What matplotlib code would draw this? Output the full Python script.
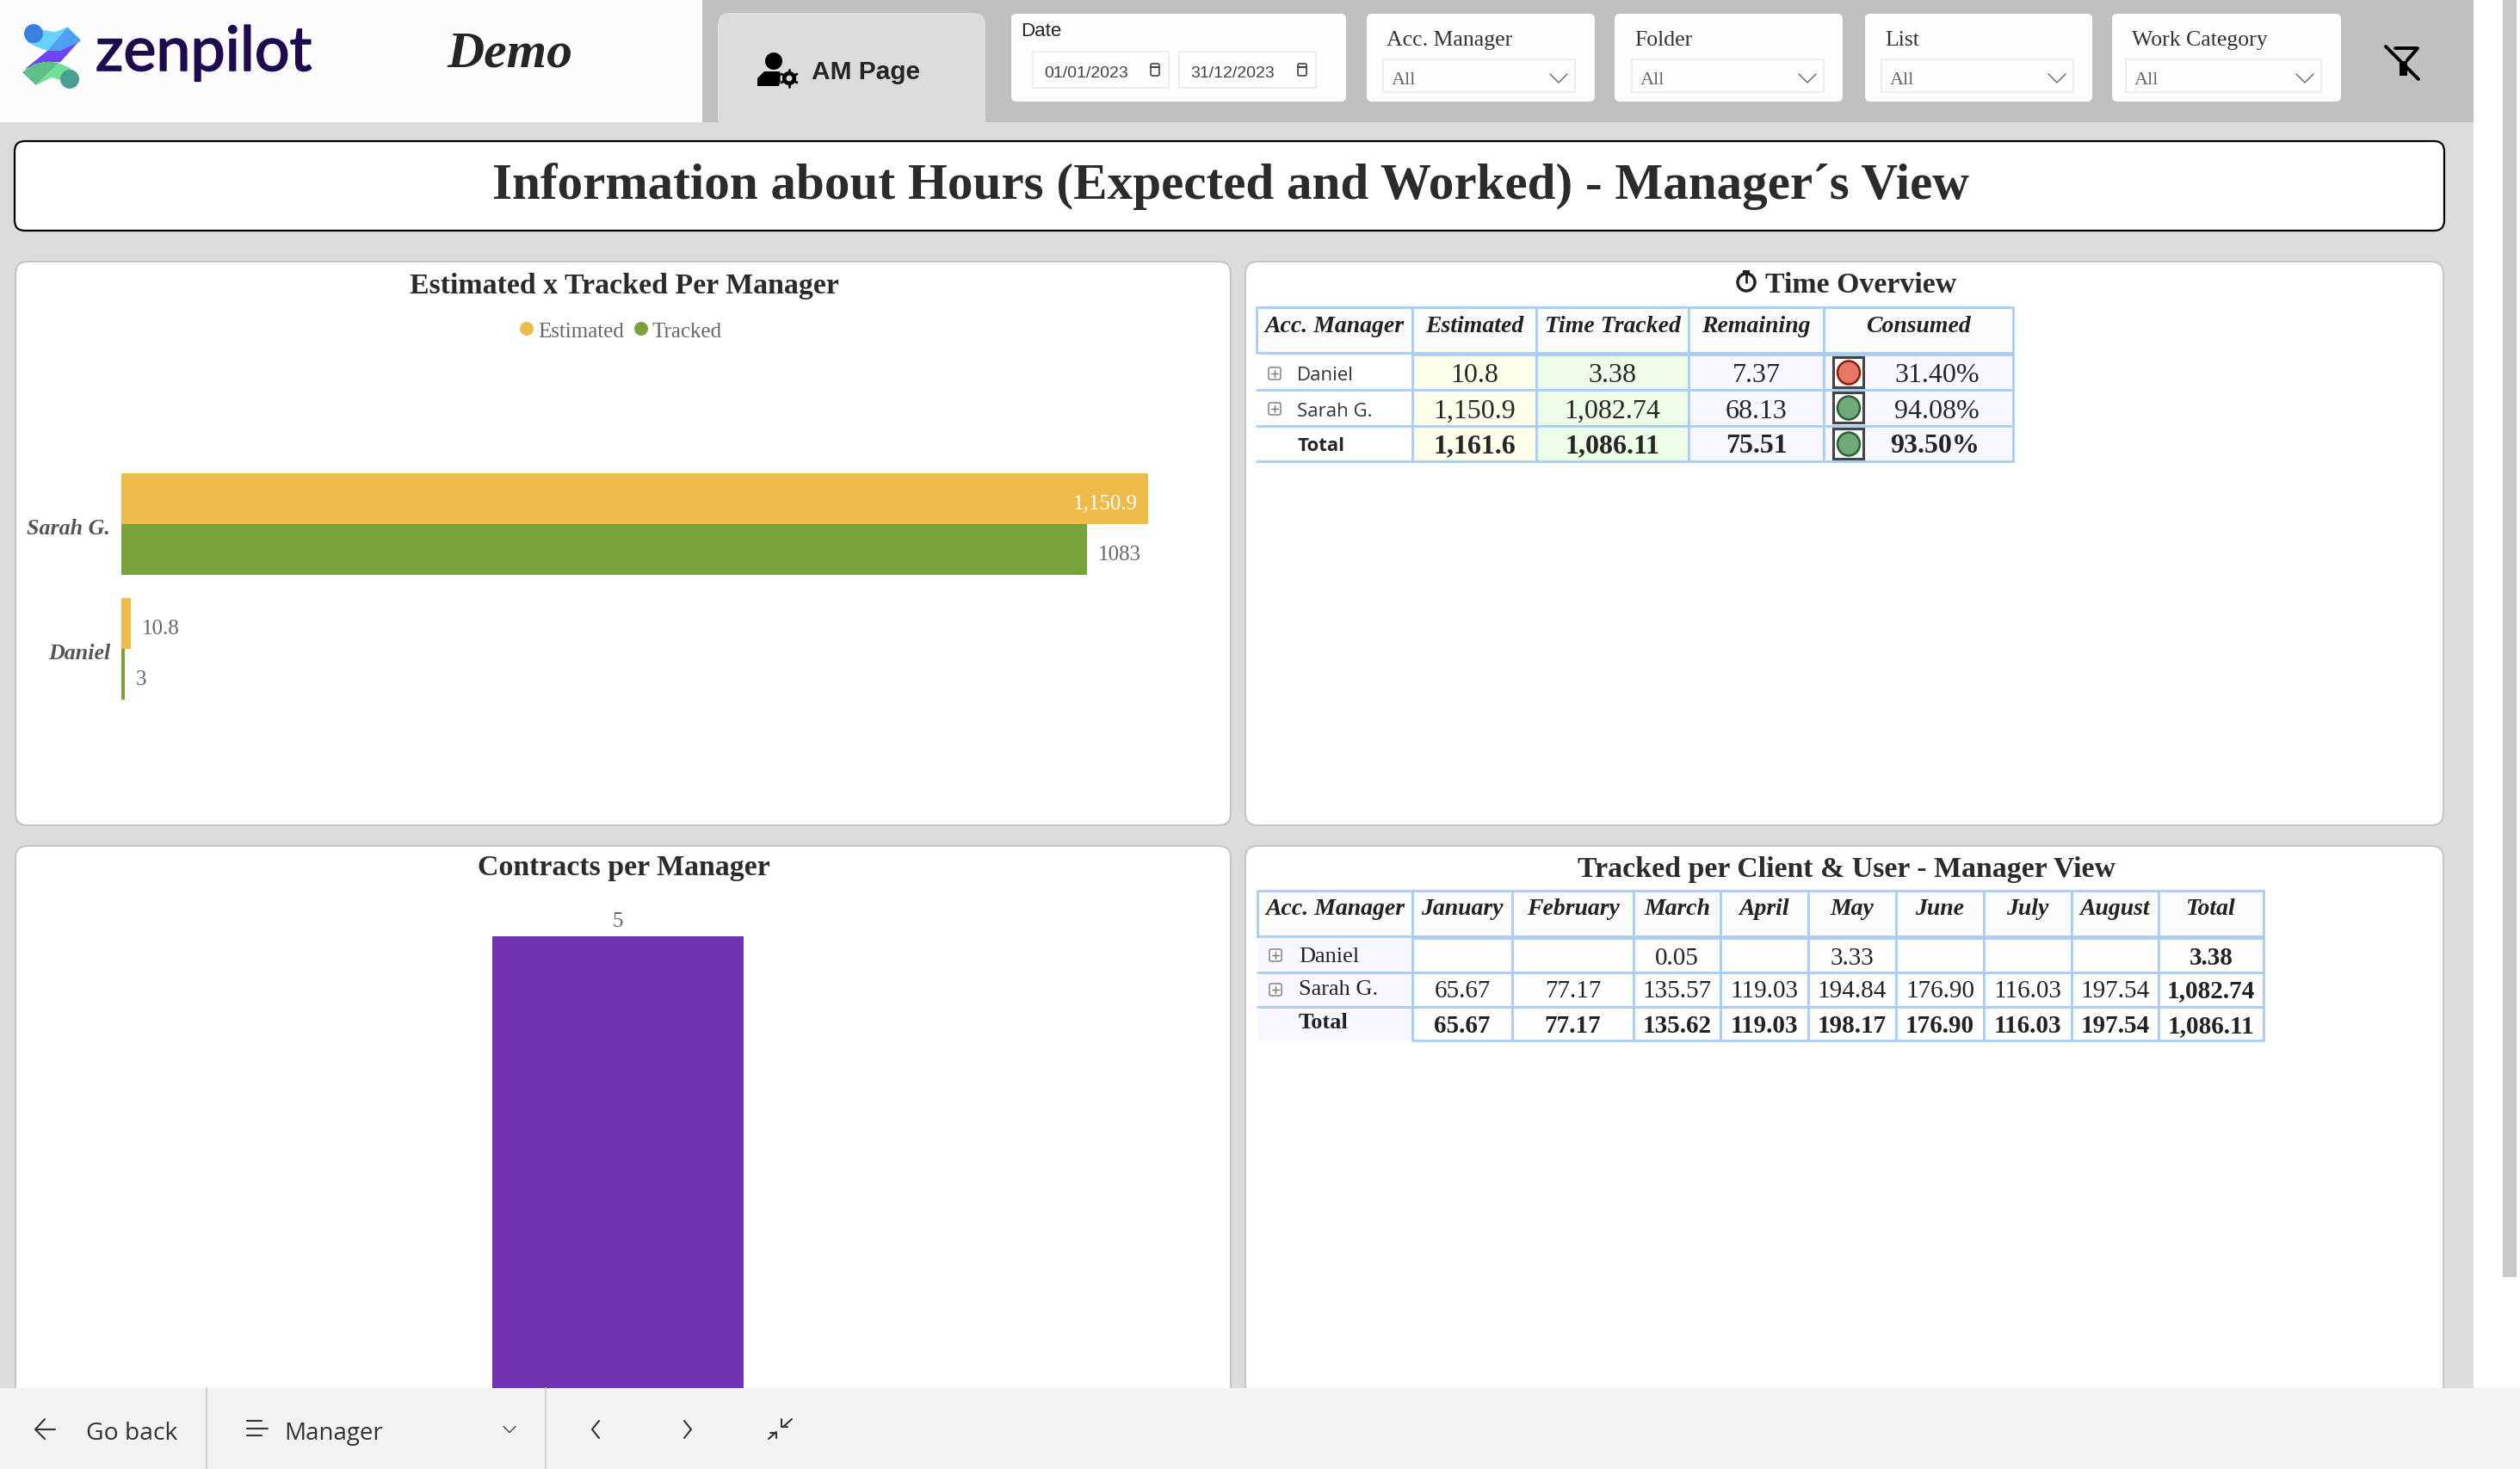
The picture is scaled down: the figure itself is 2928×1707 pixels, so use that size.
import matplotlib
matplotlib.use("Agg")
import matplotlib.pyplot as plt
import matplotlib.patheffects as pe
from matplotlib.patches import Circle, Ellipse, FancyBboxPatch, Polygon, Rectangle
from matplotlib.transforms import ScaledTranslation

W, H = 2928, 1708
SERIF = "Liberation Serif"
SANS = "Liberation Sans"
UI = "Open Sans"

# bar chart data
managers = ["Daniel", "Sarah G."]
estimated = [10.8, 1150.9]
tracked = [3.38, 1082.74]
contracts = [5]

# time overview table
overview_header = ["Acc. Manager", "Estimated", "Time Tracked", "Remaining", "Consumed"]
overview_labels = ["Daniel", "Sarah G.", "Total"]
overview_estimated = ["10.8", "1,150.9", "1,161.6"]
overview_tracked = ["3.38", "1,082.74", "1,086.11"]
overview_remaining = ["7.37", "68.13", "75.51"]
overview_consumed = ["31.40%", "94.08%", "93.50%"]
overview_status = ["red", "green", "green"]

# tracked per month table
month_header = ["Acc. Manager", "January", "February", "March", "April", "May",
                "June", "July", "August", "Total"]
month_labels = ["Daniel", "Sarah G.", "Total"]
month_daniel = ["", "", "0.05", "", "3.33", "", "", "", "3.38"]
month_sarah = ["65.67", "77.17", "135.57", "119.03", "194.84", "176.90", "116.03",
               "197.54", "1,082.74"]
month_total = ["65.67", "77.17", "135.62", "119.03", "198.17", "176.90", "116.03",
               "197.54", "1,086.11"]

# filter cards
filter_names = ["Acc. Manager", "Folder", "List", "Work Category"]
filter_dates = ["01/01/2023", "31/12/2023"]


def px_axes(x0, y0, x1, y1, zorder):
    return fig.add_axes([x0 / W, 1 - y1 / H, (x1 - x0) / W, (y1 - y0) / H], zorder=zorder)


def rect(ax, x0, y0, x1, y1, color, **kw):
    ax.add_patch(Rectangle((x0, y0), x1 - x0, y1 - y0, facecolor=color, edgecolor="none", **kw))


def rrect(ax, x0, y0, x1, y1, face, edge="none", lw=1, r=8):
    ax.add_patch(FancyBboxPatch((x0, y0), x1 - x0, y1 - y0, boxstyle=f"round,pad=0,rounding_size={r}",
                                facecolor=face, edgecolor=edge, linewidth=lw))


def txt(ax, x, y, s, size, color="#252525", family=SERIF, ha="left", va="center", **kw):
    # matplotlib centres on the full line box, so text sits a bit high without this
    return ax.text(x, y + 5, s, fontsize=size, color=color, family=family, ha=ha, va=va, **kw)


def line(ax, xs, ys, color="#333333", lw=1.5, **kw):
    ax.plot(xs, ys, color=color, linewidth=lw, solid_capstyle="round", **kw)


def chevron(ax, x, y, w=10, h=10, color="#666666"):
    line(ax, [x - w, x, x + w], [y - h / 2, y + h / 2, y - h / 2], color=color, lw=1)


fig = plt.figure(figsize=(W / 100, H / 100), dpi=100, facecolor="white")

# ---- page background ----
bg = px_axes(0, 0, W, H, 0)
bg.set_xlim(0, W)
bg.set_ylim(H, 0)
bg.axis("off")

rect(bg, 0, 0, 2874, H, "#dcdcde")
rect(bg, 816, 0, 2874, 143, "#c0c0c0")
rect(bg, 0, 0, 816, 143, "#fcfcfc")
rect(bg, 2908, 0, 2924, 1485, "#c8c8c8")

# logo
def lx(x):
    return 10 + x / 3


def ly(y):
    return 15 + y / 3


logo_shapes = [
    ([(87, 42), (120, 62), (160, 70), (205, 52), (135, 135), (100, 122), (65, 105)], "#67d2fb"),
    ([(205, 52), (252, 98), (225, 122), (180, 135), (135, 135)], "#4f9ff5"),
    ([(135, 135), (180, 135), (240, 108), (180, 175), (120, 175), (55, 200)], "#6f45f5"),
    ([(48, 210), (95, 255), (175, 178), (140, 172), (90, 180)], "#5fbe85"),
    ([(175, 178), (215, 195), (240, 230), (215, 265), (190, 240), (150, 228), (95, 255)], "#6fe097"),
]
for pts, col in logo_shapes:
    bg.add_patch(Polygon([(lx(a), ly(b)) for a, b in pts], facecolor=col, edgecolor="none"))
bg.add_patch(Circle((lx(87), ly(75)), 11, facecolor="#3b7fe0", edgecolor="none"))
bg.add_patch(Circle((lx(213), ly(234)), 11, facecolor="#4a9f90", edgecolor="none"))
zen = txt(bg, 111, 78, "zenpilot", 51.7, color="#1e0a4e", family="Lato", va="baseline")
zen.set_path_effects([pe.withStroke(linewidth=1.2, foreground="#1e0a4e")])
txt(bg, 592, 58.5, "Demo", 43, family=SERIF, ha="center", style="italic", weight="bold")

# AM Page tab
rrect(bg, 834, 16, 1145, 170, "#dcdcde", r=14)
rect(bg, 834, 143, 1145, 165, "#dcdcde")
bg.add_patch(Circle((899, 72), 10, facecolor="black", edgecolor="none"))
bg.add_patch(Polygon([(880, 101), (880, 92), (888, 84), (906, 84), (908, 92), (905, 101)],
                     facecolor="black", edgecolor="none"))
bg.add_patch(Circle((917, 92), 10.5, facecolor="#dcdcde", edgecolor="none"))
bg.add_patch(Circle((917, 92), 6, facecolor="none", edgecolor="black", linewidth=3))
for a, b, c, d in [(917, 82, 917, 102), (908, 87, 926, 97), (908, 97, 926, 87)]:
    line(bg, [a, c], [b, d], color="black", lw=2, zorder=2)
bg.add_patch(Circle((917, 92), 5, facecolor="#dcdcde", edgecolor="black", linewidth=2.2, zorder=3))
txt(bg, 943, 79, "AM Page", 21.5, family=SANS, weight="bold")

# date card
rrect(bg, 1175, 17, 1564, 119, "#fdfdfd", r=6)
txt(bg, 1186, 31, "Date", 16, family=SANS)
for x0, x1, d in zip([1199, 1369], [1359, 1530], filter_dates):
    rect(bg, x0, 60, x1, 104, "#eeeeee")
    rect(bg, x0 + 2, 62, x1 - 2, 102, "#fdfdfd")
    txt(bg, x0 + 14, 81, d, 14, family=SANS, color="#444444")
    rrect(bg, x1 - 22, 75, x1 - 12, 89, "none", edge="#444444", lw=1.2, r=2)
    line(bg, [x1 - 22, x1 - 12], [79, 79], color="#444444", lw=1.5)

# dropdown cards
for name, x0, x1, dx0, dx1 in zip(filter_names, [1588, 1876, 2167, 2454], [1853, 2141, 2431, 2720],
                                  [1606, 1895, 2185, 2469], [1831, 2120, 2410, 2698]):
    rrect(bg, x0, 17, x1, 119, "#fdfdfd", r=6)
    txt(bg, x0 + 23, 42, name, 18.5, color="#333333")
    rect(bg, dx0, 69, dx1, 109, "#eeeeee")
    rect(bg, dx0 + 2, 71, dx1 - 2, 107, "#fdfdfd")
    txt(bg, dx0 + 11, 88, "All", 16, color="#666666")
    chevron(bg, dx1 - 20, 92)

# clear filter icon
line(bg, [2783, 2809, 2797], [57, 57, 71], color="black", lw=2.8)
rect(bg, 2788, 72, 2797, 89, "black")
line(bg, [2772, 2810], [55, 93], color="black", lw=2.8)

# page title
rrect(bg, 17, 165, 2840, 269, "white", edge="black", lw=1.6, r=12)
txt(bg, 1430, 212, "Information about Hours (Expected and Worked) - Manager´s View", 42.6,
    ha="center", weight="bold", color="#2b2b2b")

# panels
for x0, y0, x1, y1 in [(18, 305, 1430, 960), (1447, 305, 2839, 960),
                       (18, 984, 1430, 1760), (1447, 984, 2839, 1760)]:
    rrect(bg, x0, y0, x1, y1, "white", edge="#c6c6c6", lw=1.5, r=14)

TITLE = 24.4
txt(bg, 725, 327, "Estimated x Tracked Per Manager", TITLE, ha="center", weight="bold", color="#2b2b2b")
txt(bg, 725, 1004, "Contracts per Manager", TITLE, ha="center", weight="bold", color="#2b2b2b")
txt(bg, 2145, 1005, "Tracked per Client & User - Manager View", TITLE, ha="center", weight="bold", color="#2b2b2b")
txt(bg, 2051, 327, "Time Overview", TITLE, weight="bold", color="#2b2b2b")
bg.add_patch(Circle((2029, 329), 10, facecolor="none", edgecolor="#222222", linewidth=2.5))
line(bg, [2029, 2029], [317, 329], color="#222222", lw=2)
rect(bg, 2025, 315, 2033, 318, "#222222")

# legend of the bar chart
ORANGE, GREEN, PURPLE = "#eeba4a", "#78a33b", "#7233b0"
for x, col, lab in [(612, ORANGE, "Estimated"), (745, GREEN, "Tracked")]:
    bg.add_patch(Circle((x, 383), 8, facecolor=col, edgecolor="none"))
    txt(bg, x + 13, 381, lab, 18, color="#666666")

# ---- bar chart ----
ax1 = px_axes(141, 540, 1400, 830, 1)
ax1.patch.set_visible(False)
ax1.set_xlim(0, 1214.6)
ax1.set_ylim(-0.517, 1.483)
bar_h = 0.407
ys = list(range(len(managers)))
ax1.barh([y + bar_h / 2 for y in ys], estimated, height=bar_h, color=ORANGE)
ax1.barh([y - bar_h / 2 for y in ys], tracked, height=bar_h, color=GREEN)
ax1.set_yticks(ys, managers, family=SERIF, style="italic", weight="bold", fontsize=18.7, color="#555555")
ax1.set_xticks([])
ax1.tick_params(axis="y", length=0, pad=9.4)
for lab in ax1.get_yticklabels():
    lab.set_transform(lab.get_transform() + ScaledTranslation(0, -0.02, fig.dpi_scale_trans))
for s in ax1.spines.values():
    s.set_visible(False)
for y, e, t in zip(ys, estimated, tracked):
    inside = e > 1000
    ax1.annotate(f"{e:,.1f}", (e, y + bar_h / 2), textcoords="offset pixels",
                 xytext=(-12 if inside else 13, -5), ha="right" if inside else "left", va="center",
                 family=SERIF, fontsize=18, color="white" if inside else "#666666")
    ax1.annotate(f"{t:.0f}", (t, y - bar_h / 2), textcoords="offset pixels", xytext=(13, -5),
                 ha="left", va="center", family=SERIF, fontsize=18, color="#666666")

# ---- contracts chart, its base runs under the footer ----
ax2 = px_axes(40, 1089, 1396, 1760, 1)
ax2.patch.set_visible(False)
ax2.set_xlim(-0.5, 0.5)
ax2.set_ylim(0, 5)
ax2.bar([0], contracts, width=0.2153, color=PURPLE)
ax2.set_xticks([])
ax2.set_yticks([])
for s in ax2.spines.values():
    s.set_visible(False)
ax2.annotate(f"{contracts[0]}", (0, contracts[0]), textcoords="offset pixels", xytext=(0, 18),
             ha="center", va="center", family=SERIF, fontsize=18, color="#666666", annotation_clip=False)

# ---- tables ----
BLUE = "#a9cdf5"
LW = 2


def header_row(edges, y0, y1, names, ty):
    for i, name in enumerate(names):
        bg.add_patch(Rectangle((edges[i], y0), edges[i + 1] - edges[i], y1 - y0, facecolor="#fafafa",
                               edgecolor=BLUE, linewidth=LW))
        txt(bg, (edges[i] + edges[i + 1]) / 2, ty, name, 20, ha="center", weight="bold", style="italic",
            color="#222222")


def cell(x0, y0, x1, y1, face):
    bg.add_patch(Rectangle((x0, y0), x1 - x0, y1 - y0, facecolor=face, edgecolor=BLUE, linewidth=LW))


def expand_box(x, y):
    rrect(bg, x - 7, y - 7, x + 7, y + 7, "white", edge="#777777", lw=1, r=2)
    line(bg, [x - 4, x + 4], [y, y], color="#777777", lw=1)
    line(bg, [x, x], [y - 4, y + 4], color="#777777", lw=1)


# time overview
ov_x = [1460, 1641, 1785, 1962, 2119, 2339]
ov_y = [413, 454, 496, 537]
ov_ty = [431, 473, 514]
ov_ly = [431, 473, 514]
header_row(ov_x, 358, 411, overview_header, 374)
status_col = {"red": ("#e57765", "#8c1c10"), "green": ("#6fa977", "#2e5e39")}
for r in range(3):
    wt = "bold" if r == 2 else "normal"
    line(bg, [ov_x[0], ov_x[1]], [ov_y[r + 1], ov_y[r + 1]], color=BLUE, lw=LW)
    if r < 2:
        expand_box(1481, ov_y[r] + 22)
        txt(bg, 1507, ov_ly[r], overview_labels[r], 16, family=UI, color="#333333")
    else:
        txt(bg, 1507, ov_ly[r], overview_labels[r], 16, family=UI, color="#252525", weight="bold")
    cols = [overview_estimated, overview_tracked, overview_remaining]
    faces = ["#fffeea", "#ecfce6", "#f8f6ff"]
    for c in range(3):
        cell(ov_x[c + 1], ov_y[r], ov_x[c + 2], ov_y[r + 1], faces[c])
        txt(bg, (ov_x[c + 1] + ov_x[c + 2]) / 2, ov_ty[r], cols[c][r], 23, ha="center", weight=wt)
    cell(ov_x[4], ov_y[r], ov_x[5], ov_y[r + 1], "#f8f6ff")
    txt(bg, 2300, ov_ty[r], overview_consumed[r], 23, ha="right", weight=wt)
    face, edge = status_col[overview_status[r]]
    bg.add_patch(Rectangle((2130, ov_y[r] + 3), 35, 35, facecolor="white", edgecolor="#444444", linewidth=2.2))
    bg.add_patch(Ellipse((2148, ov_y[r] + 21), 26, 27, facecolor=face, edgecolor=edge, linewidth=1.8))

# tracked per month
mo_x = [1461, 1641, 1757, 1898, 1999, 2101, 2203, 2305, 2407, 2508, 2630]
mo_y = [1091, 1131, 1171, 1210]
mo_ty = [1109, 1147, 1188]
mo_ly = [1107, 1145, 1184]
header_row(mo_x, 1036, 1089, month_header, 1052)
rect(bg, mo_x[0], mo_y[0], mo_x[1], mo_y[3], "#f8f6fe")
for r, rowvals in enumerate([month_daniel, month_sarah, month_total]):
    for c, val in enumerate(rowvals):
        cell(mo_x[c + 1], mo_y[r], mo_x[c + 2], mo_y[r + 1], "#fdfdfd")
        bold = r == 2 or c == len(rowvals) - 1
        txt(bg, (mo_x[c + 1] + mo_x[c + 2]) / 2, mo_ty[r], val, 21, ha="center",
            weight="bold" if bold else "normal", color="#222222")
    if r < 2:
        line(bg, [mo_x[0], mo_x[1]], [mo_y[r + 1], mo_y[r + 1]], color=BLUE, lw=LW)
        expand_box(1482, mo_y[r] + 20)
    txt(bg, 1509, mo_ly[r], month_labels[r], 19, weight="bold" if r == 2 else "normal", color="#222222")

# ---- footer, on top of the panels and the contracts bar ----
top = px_axes(0, 0, W, H, 2)
top.patch.set_visible(False)
top.set_xlim(0, W)
top.set_ylim(H, 0)
top.axis("off")
rect(top, 0, 1614, W, H, "#f3f3f3")
for x in [240, 634]:
    line(top, [x, x], [1614, H], color="#d0d0d0", lw=1.5)
line(top, [64, 41, 52], [1662, 1662, 1650], color="#333333", lw=1.5)
line(top, [41, 52], [1662, 1673], color="#333333", lw=1.5)
txt(top, 100, 1661, "Go back", 20.3, family=UI, color="#333333")
for y, x1 in [(1652, 304), (1661, 311), (1669, 304)]:
    line(top, [287, x1], [y, y], color="#333333", lw=1.5)
txt(top, 330, 1661, "Manager", 20, family=UI, color="#333333")
chevron(top, 592, 1662, w=7, h=7, color="#444444")
line(top, [696, 688, 696], [1652, 1662, 1672], color="#333333", lw=1.5)
line(top, [795, 803, 795], [1652, 1662, 1672], color="#333333", lw=1.5)
line(top, [910, 920], [1659, 1650], color="#333333", lw=1.5)
line(top, [908, 908, 915], [1650, 1659, 1659], color="#333333", lw=1.5)
line(top, [893, 902], [1673, 1665], color="#333333", lw=1.5)
line(top, [895, 902, 902], [1666, 1666, 1672], color="#333333", lw=1.5)

fig.savefig("out.png", dpi=100)
